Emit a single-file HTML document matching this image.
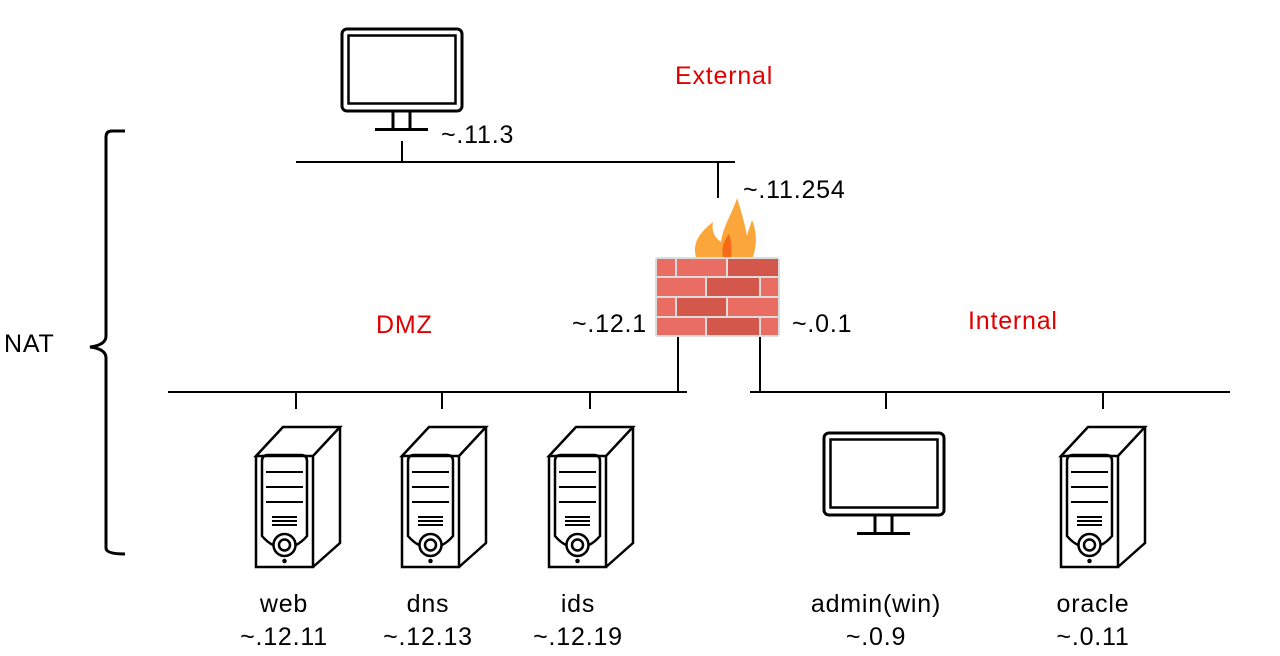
<!DOCTYPE html>
<html><head><style>
html,body{margin:0;padding:0;background:#fff;}
svg{display:block;}
text{font-family:"Liberation Sans",sans-serif;font-size:25px;letter-spacing:0.8px;fill:#000;}
.r{fill:#e00000;}
</style></head><body>
<svg width="1280" height="656" viewBox="0 0 1280 656" xmlns="http://www.w3.org/2000/svg">
<defs>
<g id="mon" fill="none" stroke="#000">
<rect x="342" y="29" width="120" height="82" rx="5" stroke-width="3"/>
<rect x="348.5" y="35.5" width="107" height="68" stroke-width="2.5"/>
<path d="M393 112v16M410 112v16" stroke-width="3"/>
<path d="M375 129.5h53" stroke-width="3"/>
</g>
<g id="srv" fill="none" stroke="#000" stroke-width="2.5">
<path d="M256 456L283 427H340L313 456Z M313 456V567H256V456 M313 567L340 543V427"/>
<path d="M262 461Q262 455 268 455H301Q307 455 307 461V536Q302 542 296 545 M262 461V536Q267 542 273 545"/>
<path d="M266 472H303M266 487H303M266 502H303M272 517H297M272 521H297M272 525H297" stroke-width="2"/>
<circle cx="284.5" cy="545" r="11"/>
<circle cx="284.5" cy="545" r="5.5"/>
<circle cx="284.5" cy="561" r="1" fill="#000"/>
</g>
</defs>

<use href="#mon"/>
<use href="#mon" transform="translate(482,404)"/>
<use href="#srv"/>
<use href="#srv" transform="translate(146,0)"/>
<use href="#srv" transform="translate(293,0)"/>
<use href="#srv" transform="translate(805,0)"/>

<g stroke="#000" stroke-width="2" fill="none">
<path d="M296 162H735M402 141V162M718 162V198"/>
<path d="M168 392H687M678 337V392M296 392V409M442 392V409M590 392V409"/>
<path d="M750 392H1230M760 337V392M886 392V409M1103 392V409"/>
<path d="M125 131H112Q106 131 106 137V336Q106 345 90 347Q106 349 106 358V548Q106 554 125 554" stroke-width="3"/>
</g>

<!-- firewall -->
<path d="M696 257C692 243 700 232 713 222C711 233 716 238 721 242C723 226 733 212 737 198C742 214 745 224 747 236C749 228 751 224 752 220C758 234 756 248 753 257Z" fill="#fba63a"/>
<path d="M723 257C721 248 724 240 729 234C732 242 732 250 731 257Z" fill="#f56b1a"/>
<rect x="655" y="257" width="125" height="80" rx="3" fill="#dcdcdc"/>
<g fill="#e96d62">
<rect x="657" y="259" width="18" height="17"/><rect x="677" y="259" width="49" height="17"/>
<rect x="657" y="278" width="48" height="18"/><rect x="761" y="278" width="17" height="18"/>
<rect x="657" y="298" width="18" height="18"/><rect x="728" y="298" width="50" height="18"/>
<rect x="657" y="318" width="48" height="17"/><rect x="761" y="318" width="17" height="17"/>
</g>
<g fill="#d3574a">
<rect x="728" y="259" width="50" height="17"/>
<rect x="707" y="278" width="52" height="18"/>
<rect x="677" y="298" width="49" height="18"/>
<rect x="707" y="318" width="52" height="17"/>
</g>

<text x="441" y="143">~.11.3</text>
<text x="743" y="198">~.11.254</text>
<text x="572" y="332">~.12.1</text>
<text x="792" y="332">~.0.1</text>
<text x="675" y="84" class="r">External</text>
<text x="376" y="333" class="r">DMZ</text>
<text x="968" y="329" class="r">Internal</text>
<text x="4" y="352">NAT</text>
<text x="284" y="612" text-anchor="middle">web</text>
<text x="284" y="645" text-anchor="middle">~.12.11</text>
<text x="428" y="612" text-anchor="middle">dns</text>
<text x="428" y="645" text-anchor="middle">~.12.13</text>
<text x="578" y="612" text-anchor="middle">ids</text>
<text x="578" y="645" text-anchor="middle">~.12.19</text>
<text x="876" y="612" text-anchor="middle">admin(win)</text>
<text x="876" y="645" text-anchor="middle">~.0.9</text>
<text x="1093" y="612" text-anchor="middle">oracle</text>
<text x="1093" y="645" text-anchor="middle">~.0.11</text>
</svg>
</body></html>
